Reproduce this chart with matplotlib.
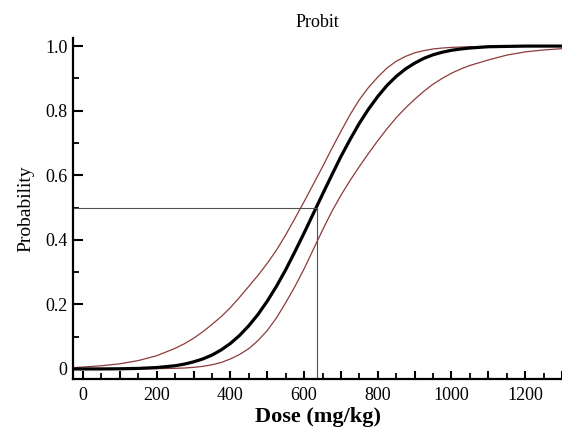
import matplotlib
matplotlib.use("Agg")
import matplotlib.pyplot as plt
from matplotlib.ticker import MultipleLocator, FuncFormatter

# dose grid (mg/kg) and probabilities
dose = [-25, 0, 50, 100, 150, 200, 250, 275, 300, 325, 350, 375, 400, 425,
        450, 475, 500, 525, 550, 575, 600, 625, 650, 675, 700, 725, 750,
        775, 800, 825, 850, 875, 900, 925, 950, 975, 1000, 1025, 1050,
        1100, 1150, 1200, 1250, 1300]
prob_fit = [0.0001, 0.0001, 0.0002, 0.0006, 0.0017, 0.0044, 0.010, 0.015,
            0.022, 0.031, 0.043, 0.059, 0.079, 0.104, 0.134, 0.169, 0.210,
            0.256, 0.307, 0.363, 0.421, 0.481, 0.541, 0.600, 0.658, 0.711,
            0.761, 0.805, 0.844, 0.878, 0.906, 0.929, 0.947, 0.962, 0.973,
            0.981, 0.987, 0.991, 0.994, 0.998, 0.999, 1.0, 1.0, 1.0]
prob_upper = [0.004, 0.006, 0.010, 0.016, 0.026, 0.041, 0.064, 0.078, 0.095,
              0.115, 0.138, 0.162, 0.190, 0.222, 0.256, 0.290, 0.327, 0.368,
              0.415, 0.466, 0.518, 0.572, 0.626, 0.682, 0.736, 0.788, 0.834,
              0.872, 0.904, 0.932, 0.953, 0.968, 0.979, 0.986, 0.991, 0.994,
              0.996, 0.997, 0.998, 0.999, 1.0, 1.0, 1.0, 1.0]
prob_lower = [0.0, 0.0, 0.0, 0.0, 0.0005, 0.001, 0.002, 0.003, 0.005, 0.008,
              0.013, 0.020, 0.031, 0.045, 0.063, 0.088, 0.119, 0.158, 0.205,
              0.255, 0.310, 0.370, 0.430, 0.487, 0.538, 0.584, 0.627, 0.668,
              0.707, 0.744, 0.778, 0.808, 0.835, 0.860, 0.882, 0.900, 0.916,
              0.929, 0.940, 0.957, 0.972, 0.982, 0.988, 0.992]
ld50 = 635

plt.rcParams['font.family'] = ['Liberation Serif', 'DejaVu Serif']

fig = plt.figure(figsize=(5.62, 4.29), dpi=100)
ax = fig.add_axes([0.130, 0.1166, 0.870, 0.7948])

ax.plot(dose, prob_upper, color='#8c3b3b', lw=0.9)
ax.plot(dose, prob_lower, color='#8c3b3b', lw=0.9)
ax.plot(dose, prob_fit, color='black', lw=2.3)

xmin, xmax = -27, 1300
ymin, ymax = -0.031, 1.025
ax.set_xlim(xmin, xmax)
ax.set_ylim(ymin, ymax)

# LD50 guide lines
ax.plot([xmin, ld50], [0.5, 0.5], color='#505050', lw=0.8)
ax.plot([ld50, ld50], [ymin, 0.5], color='#505050', lw=0.8)

for s in ['top', 'right']:
    ax.spines[s].set_visible(False)
for s in ['left', 'bottom']:
    ax.spines[s].set_linewidth(1.6)

ax.xaxis.set_major_locator(MultipleLocator(100))
ax.xaxis.set_minor_locator(MultipleLocator(50))
ax.xaxis.set_major_formatter(FuncFormatter(
    lambda v, p: '%d' % v if round(v) % 200 == 0 else ''))
ax.yaxis.set_major_locator(MultipleLocator(0.2))
ax.yaxis.set_minor_locator(MultipleLocator(0.1))
ax.yaxis.set_major_formatter(FuncFormatter(
    lambda v, p: '0' if abs(v) < 1e-9 else '%.1f' % v))

ax.tick_params(which='major', direction='in', length=7, width=1.5,
               labelsize=13)
ax.tick_params(which='minor', direction='in', length=4, width=1.3)
ax.tick_params(axis='x', which='major', length=6, pad=6)
ax.tick_params(axis='y', which='major', pad=4)

ax.set_title('Probit', fontsize=13, pad=8)
ax.set_xlabel('Dose (mg/kg)', fontsize=16, fontweight='bold', labelpad=2)
ax.set_ylabel('Probability', fontsize=14, labelpad=8)

plt.savefig('out.png', dpi=100)
